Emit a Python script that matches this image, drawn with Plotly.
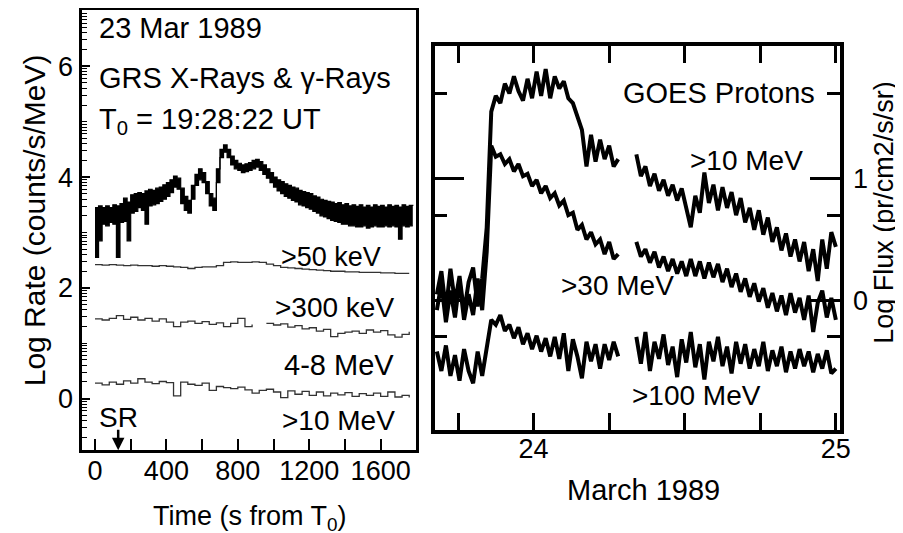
import math
import plotly.graph_objects as go

# ---- left panel: GRS count rates, time in s from T0 ----
# X-ray/gamma band (>50 keV total rate), drawn as a filled band between its edges
grs_t_fast = list(range(0, 1781, 20))
grs_xray_high = [
    3.45, 3.48, 3.45, 3.48, 3.45, 3.50, 3.48, 3.52, 3.62, 3.55,
    3.68, 3.70, 3.72, 3.70, 3.75, 3.78, 3.76, 3.80, 3.82, 3.86,
    3.90, 3.95, 4.02, 3.98, 3.80, 3.65, 3.58, 3.85, 4.05, 4.15,
    4.08, 3.92, 3.70, 3.62, 4.15, 4.50, 4.58, 4.50, 4.38, 4.30,
    4.25, 4.22, 4.24, 4.26, 4.30, 4.32, 4.28, 4.22, 4.15, 4.08,
    4.00, 3.95, 3.92, 3.88, 3.85, 3.82, 3.80, 3.76, 3.74, 3.72,
    3.70, 3.66, 3.64, 3.60, 3.58, 3.56, 3.55, 3.52, 3.54, 3.50,
    3.52, 3.48, 3.50, 3.47, 3.50, 3.46, 3.49, 3.46, 3.50, 3.47,
    3.49, 3.46, 3.50, 3.47, 3.49, 3.46, 3.50, 3.47, 3.49, 3.48,
]
grs_xray_low = [
    2.55, 2.85, 3.15, 3.12, 3.18, 3.15, 2.55, 3.18, 3.20, 2.85,
    3.35, 3.38, 3.45, 3.40, 3.15, 3.48, 3.50, 3.52, 3.56, 3.60,
    3.65, 3.72, 3.82, 3.78, 3.52, 3.40, 3.35, 3.60, 3.85, 3.95,
    3.90, 3.70, 3.48, 3.40, 3.90, 4.35, 4.45, 4.35, 4.22, 4.15,
    4.12, 4.08, 4.10, 4.12, 4.15, 4.18, 4.12, 4.05, 3.98, 3.90,
    3.82, 3.75, 3.70, 3.65, 3.62, 3.58, 3.55, 3.50, 3.48, 3.45,
    3.42, 3.38, 3.35, 3.30, 3.28, 3.25, 3.22, 3.20, 3.18, 3.15,
    3.15, 3.12, 3.12, 3.10, 3.10, 3.12, 3.08, 3.10, 3.12, 3.10,
    3.10, 3.12, 3.10, 3.12, 3.10, 2.88, 3.12, 3.10, 3.12, 3.12,
]
grs_t_slow = list(range(0, 1761, 40))
grs_50kev = [
    2.42, 2.41, 2.42, 2.41, 2.40, 2.41, 2.40, 2.40, 2.39, 2.40,
    2.39, 2.38, 2.37, 2.35, 2.37, 2.38, 2.38, 2.40, 2.46, 2.47,
    2.46, 2.46, 2.47, 2.46, 2.43, 2.40, 2.37, 2.36, 2.35, 2.34,
    2.33, 2.32, 2.31, 2.30, 2.30, 2.29, 2.29, 2.28, 2.28, 2.28,
    2.27, 2.27, 2.26, 2.26, 2.26,
]
grs_300kev = [
    1.44, 1.42, 1.45, 1.50, 1.43, 1.47, 1.42, 1.45, 1.40, 1.44,
    1.38, 1.30, 1.38, 1.40, 1.36, 1.39, 1.34, 1.37, 1.30, 1.36,
    1.45, 1.30, 1.34, None, 1.36, 1.33, 1.35, 1.29, 1.32, 1.26,
    1.28, 1.22, 1.25, 1.12, 1.18, 1.20, 1.22, 1.18, 1.24, 1.20,
    1.23, 1.15, 1.11, 1.16, 1.21,
]
grs_4_8mev = [
    0.28, 0.25, 0.30, 0.26, 0.32, 0.28, 0.36, 0.30, 0.27, 0.31,
    0.29, 0.05, 0.30, 0.26, 0.24, 0.28, 0.15, 0.22, 0.20, 0.18,
    0.21, 0.16, 0.10, 0.15, 0.17, 0.12, 0.02, 0.14, 0.08, 0.13,
    0.06, 0.12, 0.05, 0.10, 0.07, 0.11, 0.04, 0.09, 0.06, 0.10,
    0.04, 0.12, 0.03, 0.06, 0.02,
]
sr_time = 130

# ---- right panel: GOES proton flux, day of March 1989 ----
goes_day = [round(23.68 + 0.015 * i, 3) for i in range(89)]
goes_10mev = [
    0.05, 0.24, -0.08, 0.26, -0.02, 0.20, -0.10, 0.15, 0.27, -0.05,
    0.18, 0.60, 1.55, 1.68, 1.62, 1.78, 1.70, 1.84, 1.72, 1.64,
    1.82, 1.66, 1.88, 1.68, 1.90, 1.66, 1.84, 1.74, 1.80, 1.66,
    1.62, 1.50, 1.40, 1.10, 1.36, 1.14, 1.32, 1.16, 1.27, 1.10,
    1.16, None, None, None, 1.20, 1.02, 1.10, 0.94, 1.04, 0.90,
    0.99, 0.86, 0.95, 0.82, 0.92, 0.74, 0.60, 0.86, 0.72, 1.05,
    0.80, 0.95, 0.74, 0.93, 0.76, 0.89, 0.70, 0.84, 0.64, 0.76,
    0.58, 0.74, 0.54, 0.68, 0.48, 0.60, 0.41, 0.55, 0.36, 0.50,
    0.32, 0.48, 0.24, 0.42, 0.16, 0.50, 0.26, 0.56, 0.44,
]
goes_30mev = [
    -0.08, 0.14, -0.18, 0.08, -0.14, 0.16, -0.16, 0.05, -0.12, 0.18,
    -0.08, 0.40, 1.27, 1.18, 1.20, 1.12, 1.16, 1.06, 1.12, 1.02,
    1.04, 0.94, 0.99, 0.88, 0.94, 0.84, 0.88, 0.78, 0.82, 0.70,
    0.72, 0.58, 0.62, 0.50, 0.56, 0.46, 0.50, 0.38, 0.48, 0.34,
    0.38, None, None, None, 0.48, 0.36, 0.42, 0.31, 0.40, 0.27,
    0.36, 0.24, 0.34, 0.22, 0.32, 0.20, 0.34, 0.20, 0.32, 0.18,
    0.31, 0.19, 0.30, 0.15, 0.26, 0.11, 0.22, 0.07, 0.18, 0.03,
    0.14, -0.01, 0.10, -0.06, 0.06, -0.09, 0.04, -0.12, 0.06, -0.10,
    0.02, -0.16, 0.04, -0.26, -0.02, 0.08, -0.14, 0.02, -0.16,
]
goes_100mev = [
    -0.42, -0.58, -0.37, -0.62, -0.45, -0.66, -0.40, -0.58, -0.68, -0.42,
    -0.62, -0.40, -0.16, -0.20, -0.12, -0.25, -0.20, -0.31, -0.22, -0.36,
    -0.27, -0.40, -0.29, -0.42, -0.31, -0.46, -0.30, -0.48, -0.27, -0.58,
    -0.32, -0.46, -0.64, -0.34, -0.50, -0.36, -0.56, -0.36, -0.49, -0.34,
    -0.46, None, None, None, -0.30, -0.52, -0.26, -0.58, -0.34, -0.48,
    -0.28, -0.53, -0.38, -0.63, -0.32, -0.51, -0.26, -0.55, -0.36, -0.65,
    -0.34, -0.50, -0.30, -0.54, -0.38, -0.60, -0.34, -0.52, -0.36, -0.56,
    -0.40, -0.54, -0.34, -0.58, -0.41, -0.54, -0.38, -0.59, -0.42, -0.56,
    -0.40, -0.54, -0.42, -0.59, -0.44, -0.56, -0.41, -0.60, -0.56,
]

FONT = "Liberation Sans, Arial, sans-serif"

fig = go.Figure()

# band: lower edge first, upper edge filled down to it
fig.add_trace(go.Scatter(x=grs_t_fast, y=grs_xray_low, mode="lines",
                         line=dict(color="black", width=1.2, shape="hv")))
fig.add_trace(go.Scatter(x=grs_t_fast, y=grs_xray_high, mode="lines", fill="tonexty",
                         fillcolor="black", line=dict(color="black", width=1.2, shape="hv")))
for ys in [grs_50kev, grs_300kev, grs_4_8mev]:
    fig.add_trace(go.Scatter(x=grs_t_slow, y=ys, mode="lines",
                             line=dict(color="#333333", width=1.3, shape="hv")))

for ys in [goes_10mev, goes_30mev, goes_100mev]:
    fig.add_trace(go.Scatter(x=goes_day, y=ys, mode="lines", xaxis="x2", yaxis="y2",
                             line=dict(color="black", width=4)))

# log-style minor ticks on the left panel (odd integers plus log10(2..9) steps)
minor_left = [n + math.log10(k) for n in range(-1, 7) for k in range(1, 10)
              if not (k == 1 and n % 2 == 0)]

fig.update_layout(
    width=903, height=533,
    margin=dict(l=0, r=0, t=0, b=0),
    paper_bgcolor="white", plot_bgcolor="white",
    showlegend=False,
    font=dict(family=FONT, size=27, color="black"),
    xaxis=dict(domain=[0.0831, 0.4574], range=[-72, 1798], anchor="y",
               tickvals=[0, 400, 800, 1200, 1600],
               ticks="inside", ticklen=11, tickwidth=2, tickcolor="black",
               minor=dict(tickmode="array", tickvals=[200, 600, 1000, 1400], ticks="inside",
                          ticklen=11, tickwidth=2, tickcolor="black"),
               showline=True, linewidth=2.5, linecolor="black", mirror=True,
               showgrid=False, zeroline=False, ticklabelstandoff=-5),
    yaxis=dict(domain=[0.1707, 0.9981], range=[-0.93, 7.016], anchor="x",
               tickvals=[0, 2, 4, 6],
               ticks="inside", ticklen=8, tickwidth=1.5, tickcolor="black",
               minor=dict(tickmode="array", tickvals=minor_left, ticks="inside",
                          ticklen=5, tickwidth=1, tickcolor="black"),
               showline=True, linewidth=2.5, linecolor="black", mirror=True,
               showgrid=False, zeroline=False, ticklabelstandoff=1),
    xaxis2=dict(domain=[0.4784, 0.9325], range=[23.673, 25.013], anchor="y2",
                tickvals=[24, 25],
                ticks="inside", ticklen=17, tickwidth=3, tickcolor="black",
                minor=dict(tickmode="array", tickvals=[23.75, 24.25, 24.5, 24.75],
                           ticks="inside", ticklen=17, tickwidth=3, tickcolor="black"),
                showline=True, linewidth=3.5, linecolor="black", mirror="ticks",
                showgrid=False, zeroline=False, ticklabelstandoff=-8),
    yaxis2=dict(domain=[0.2083, 0.9306], range=[-1.066, 2.09], anchor="x2", side="right",
                tickvals=[0, 1],
                ticks="inside", ticklen=30, tickwidth=3, tickcolor="black",
                minor=dict(tickmode="array", tickvals=[-0.3, 0.7, 1.7], ticks="inside",
                           ticklen=13, tickwidth=3, tickcolor="black"),
                showline=True, linewidth=3.5, linecolor="black", mirror="ticks",
                showgrid=False, zeroline=False, ticklabelstandoff=4),
)

def label(text, x, y, size=28, xref="x", yref="y", xanchor="center", angle=0):
    fig.add_annotation(text=text, x=x, y=y, xref=xref, yref=yref, showarrow=False,
                       xanchor=xanchor, yanchor="middle", textangle=angle,
                       font=dict(family=FONT, size=size, color="black"))

# left panel text
label("23 Mar 1989", 10, 6.69, size=29, xanchor="left")
label("GRS X-Rays &amp; γ-Rays", 10, 5.79, size=29, xanchor="left")
label("T<sub>0</sub> = 19:28:22 UT", 10, 5.02, size=29, xanchor="left")
label("&gt;50 keV", 1322, 2.55, size=27)
label("&gt;300 keV", 1339, 1.65)
label("4-8 MeV", 1366, 0.60, size=29)
label("&gt;10 MeV", 1366, -0.39)
label("SR", sr_time, -0.34)
fig.add_annotation(x=sr_time, y=-0.93, xref="x", yref="y", ax=0, ay=-22, text="",
                   showarrow=True, arrowhead=2, arrowsize=1, arrowwidth=2.5, arrowcolor="black")

# right panel text
label("GOES Protons", 24.614, 1.70, size=29, xref="x2", yref="y2")
label("&gt;10 MeV", 24.703, 1.15, xref="x2", yref="y2")
label("&gt;30 MeV", 24.278, 0.12, xref="x2", yref="y2")
label("&gt;100 MeV", 24.539, -0.78, xref="x2", yref="y2")

# axis titles (the page sits 8 px lower than the figure's own coordinates)
label("Log Rate (counts/s/MeV)", 27 / 903, 1 - 212 / 533, size=30,
      xref="paper", yref="paper", angle=-90)
label("Time (s from T<sub>0</sub>)", 245 / 903, 1 - 510 / 533, size=27,
      xref="paper", yref="paper")
label("March 1989", 643 / 903, 1 - 482 / 533, size=29, xref="paper", yref="paper")
label("Log Flux (pr/cm2/s/sr)", 886 / 903, 1 - 204 / 533, size=27,
      xref="paper", yref="paper", angle=-90)

fig.write_html("out.html")
